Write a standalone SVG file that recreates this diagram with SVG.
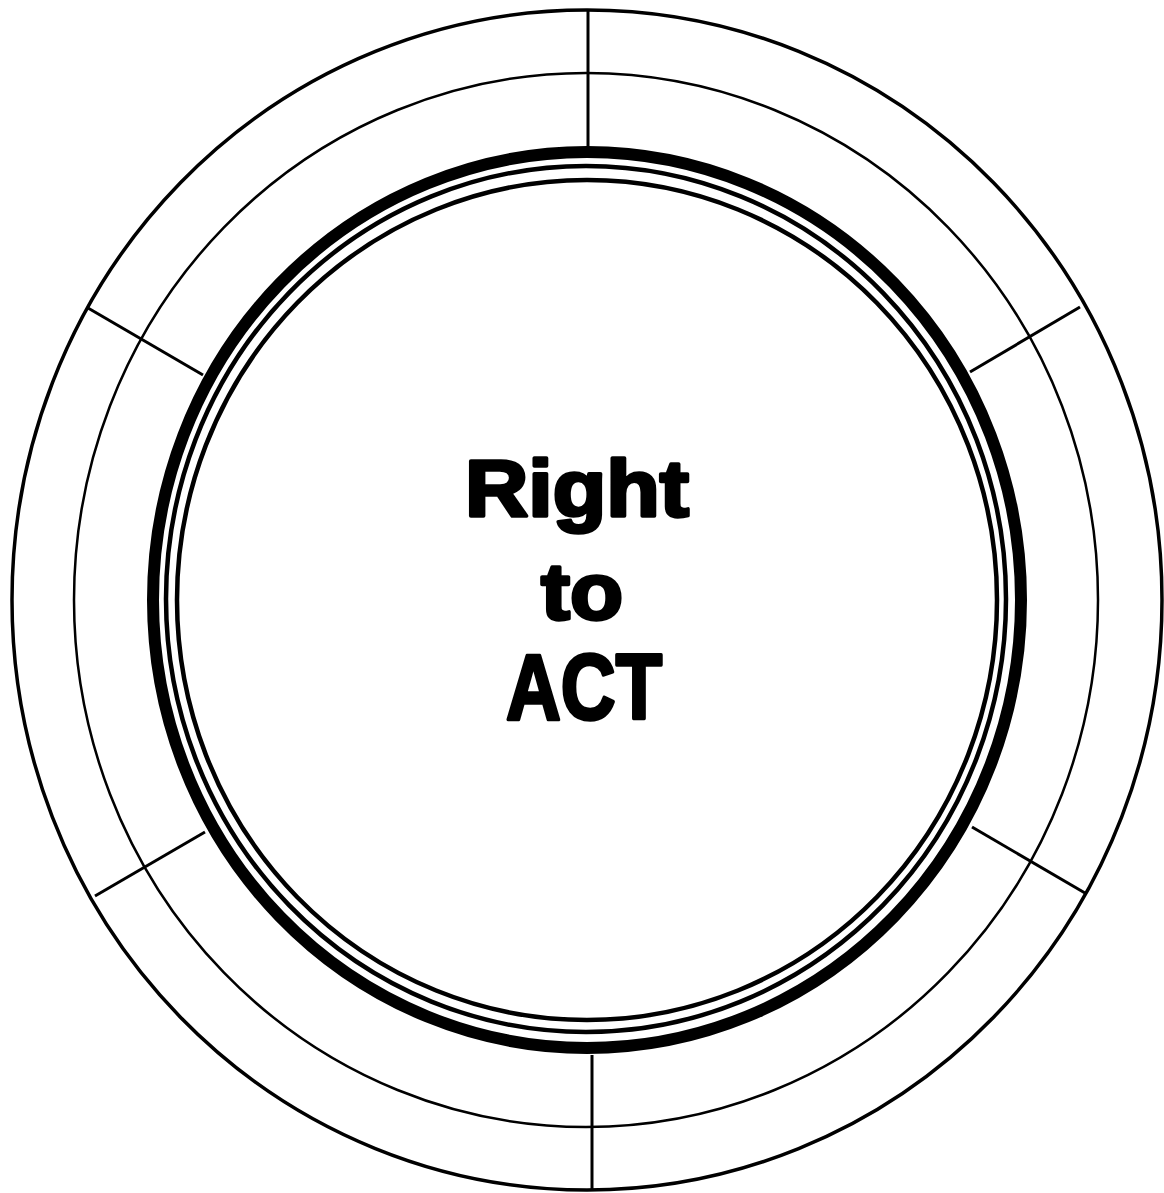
<svg xmlns="http://www.w3.org/2000/svg" width="1164" height="1193" viewBox="0 0 1164 1193">
<style>
.ring{fill:none;stroke:#000}
.div{stroke:#000;stroke-width:3;stroke-linecap:butt}
.lbl{font-family:"Liberation Sans",Arial,Helvetica,sans-serif;font-weight:bold;fill:#000;stroke:#000;stroke-width:3.5;stroke-linejoin:round;text-anchor:middle}
</style>
<rect width="1164" height="1193" fill="#fff"/>
<g id="rings">
<ellipse class="ring" cx="587" cy="600" rx="575" ry="590" stroke-width="3.5"/>
<ellipse class="ring" cx="586" cy="600" rx="512" ry="527" stroke-width="2.5"/>
<ellipse class="ring" cx="587" cy="600" rx="434" ry="448" stroke-width="12"/>
<ellipse class="ring" cx="586" cy="599" rx="420" ry="433" stroke-width="4.5"/>
<ellipse class="ring" cx="587" cy="600" rx="410" ry="420" stroke-width="4.5"/>
</g>
<g id="connectors">
<line class="div" x1="588" y1="10" x2="588" y2="147"/>
<line class="div" x1="88" y1="308" x2="203" y2="375"/>
<line class="div" x1="1080" y1="307" x2="970" y2="372"/>
<line class="div" x1="1085" y1="893" x2="972" y2="827"/>
<line class="div" x1="592" y1="1055" x2="592" y2="1190"/>
<line class="div" x1="95" y1="896" x2="205" y2="832"/>
</g>
<g id="center-label">
<text class="lbl" x="577" y="516" font-size="80" textLength="224" lengthAdjust="spacingAndGlyphs">Right</text>
<text class="lbl" x="582" y="619" font-size="80" textLength="82" lengthAdjust="spacingAndGlyphs">to</text>
<text class="lbl" x="584" y="719" font-size="92" textLength="156" lengthAdjust="spacingAndGlyphs">ACT</text>
</g>
</svg>
